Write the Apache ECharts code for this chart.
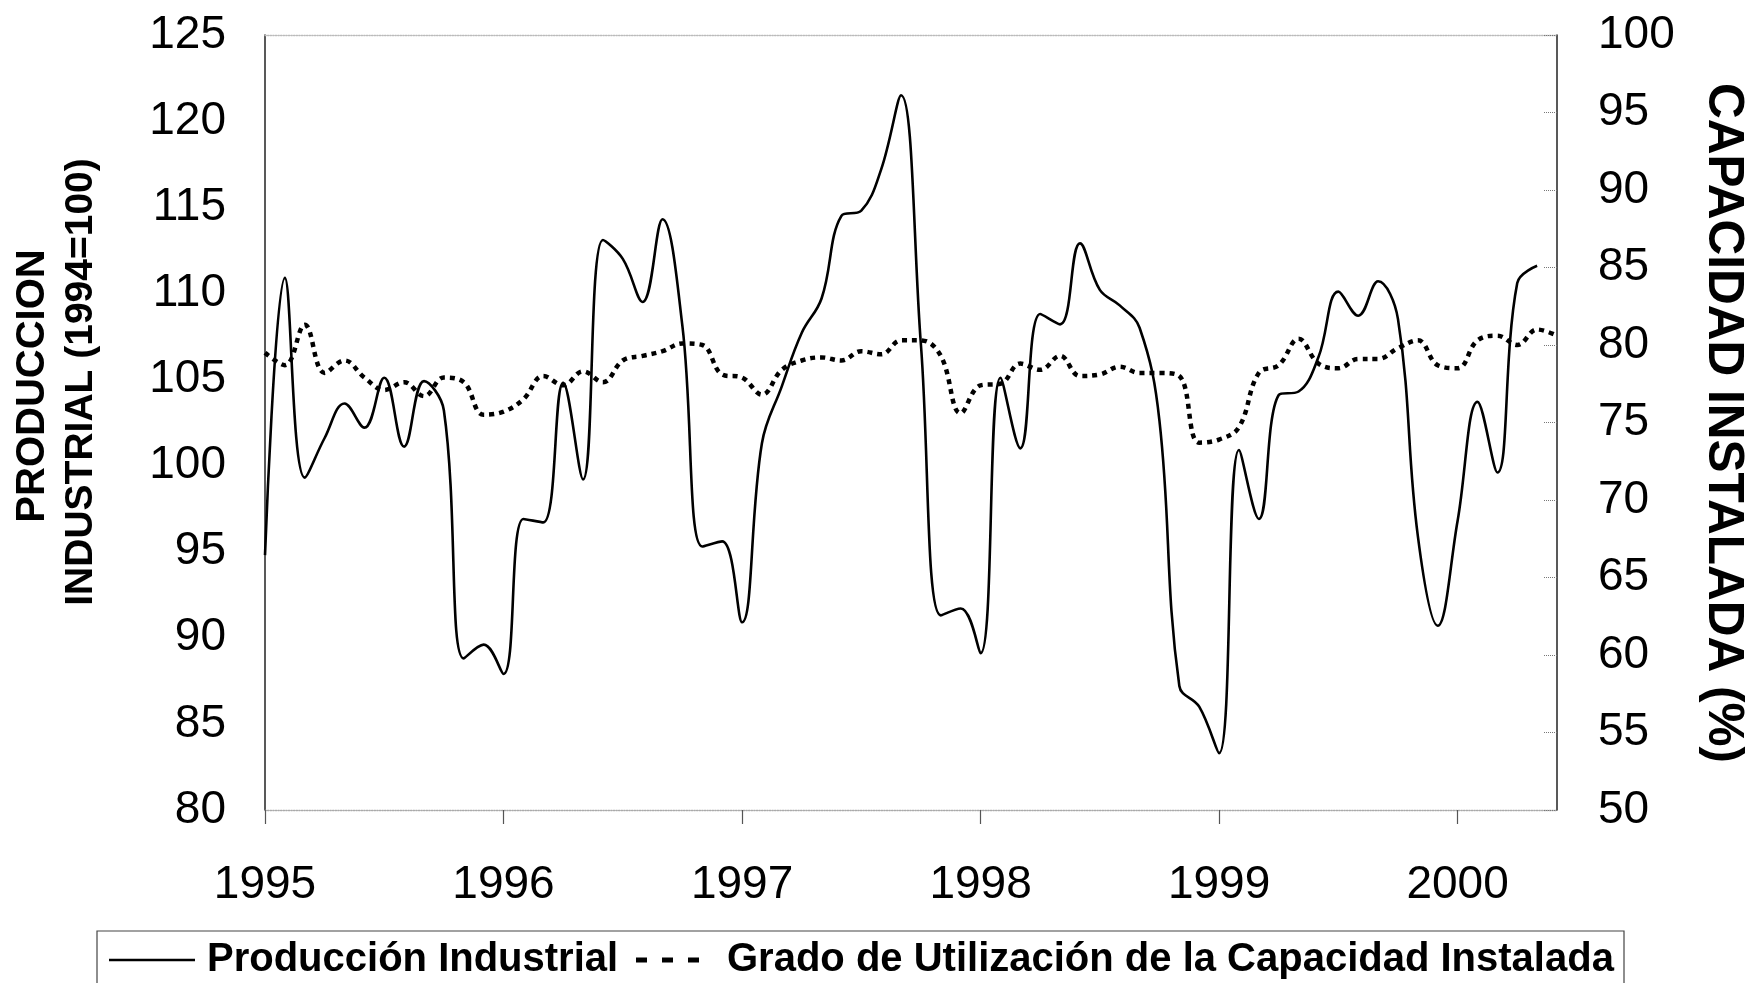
<!DOCTYPE html>
<html>
<head>
<meta charset="utf-8">
<title>Producción Industrial y Capacidad Instalada</title>
<script src="https://cdn.jsdelivr.net/npm/echarts@6/dist/echarts.min.js"></script>
<style>
  html, body { margin: 0; padding: 0; background: #fff; }
  #chart { width: 1750px; height: 983px; }
</style>
</head>
<body>
<div id="chart"></div>
<script>
// meses de ene 1995 a jun 2000 (66 meses)
const anios = ['1995', '1996', '1997', '1998', '1999', '2000'];
const meses = [];
anios.forEach(a => {
  for (let m = 1; m <= 12; m++) meses.push(a + '-' + String(m).padStart(2, '0'));
});
meses.length = 66;

const nombreProd = 'Producción Industrial';
const nombreCap = 'Grado de Utilización de la Capacidad Instalada';

// indice 1994=100 (eje izquierdo)
const prodIndustrial = [
  94.8, 110.9, 99.3, 101.6, 103.6, 102.2, 105.1, 101.1, 104.9, 103.2, 88.8, 89.6,
  87.9, 96.9, 96.7, 104.8, 99.2, 113.1, 112.0, 109.5, 114.3, 108.1, 95.3, 95.6,
  90.9, 101.3, 104.6, 107.7, 109.7, 114.5, 114.8, 117.2, 121.5, 107.0, 91.3, 91.7,
  89.1, 105.1, 101.0, 108.8, 108.2, 112.9, 110.2, 109.3, 108.0, 102.6, 87.2, 86.0,
  83.3, 100.9, 96.9, 104.1, 104.3, 106.3, 110.1, 108.7, 110.7, 108.5, 95.9, 90.7,
  96.8, 103.7, 99.6, 110.6, 111.6, null
];

// capacidad instalada % (eje derecho)
const capacidad = [
  79.5, 78.7, 81.3, 78.2, 79.0, 77.9, 77.1, 77.6, 76.7, 77.9, 77.6, 75.5,
  75.7, 76.5, 78.0, 77.4, 78.3, 77.6, 79.0, 79.3, 79.6, 80.1, 80.0, 78.1,
  77.9, 76.8, 78.4, 79.0, 79.2, 79.0, 79.6, 79.4, 80.3, 80.3, 79.3, 75.6,
  77.4, 77.5, 78.8, 78.4, 79.3, 78.0, 78.1, 78.6, 78.2, 78.2, 78.0, 73.7,
  73.9, 74.7, 78.2, 78.7, 80.4, 78.8, 78.5, 79.1, 79.1, 79.8, 80.3, 78.7,
  78.5, 80.3, 80.6, 80.0, 81.0, 80.6
];

const FONT = '"Liberation Sans", Arial, sans-serif';
const esEnero = (i) => i % 12 === 0;

const chart = echarts.init(document.getElementById('chart'));
const option = {
  backgroundColor: '#fff',
  animation: false,
  grid: { left: 265, right: 193, top: 35, bottom: 173, containLabel: false, outerBoundsMode: 'none' },
  xAxis: [{
    type: 'category',
    data: meses,
    boundaryGap: false,
    axisLine: { lineStyle: { color: '#aaa', width: 1.3, type: 'dotted' } },
    axisTick: { interval: esEnero, length: 14, lineStyle: { color: '#555', width: 1.2 } },
    axisLabel: {
      interval: esEnero,
      formatter: v => v.slice(0, 4),
      margin: 52,
      fontSize: 46,
      color: '#000',
      fontFamily: FONT
    },
    splitLine: { show: false }
  }, {
    type: 'category',
    data: meses,
    boundaryGap: false,
    position: 'top',
    axisLine: { lineStyle: { color: '#bbb', width: 1.3, type: 'dotted' } },
    axisTick: { show: false },
    axisLabel: { show: false },
    splitLine: { show: false }
  }],
  yAxis: [{
    type: 'value',
    min: 80, max: 125, interval: 5,
    position: 'left',
    axisLine: { show: true, lineStyle: { color: '#222', width: 1.5 } },
    axisTick: { show: false },
    axisLabel: { margin: 39, fontSize: 46, color: '#000', fontFamily: FONT },
    splitLine: { show: false }
  }, {
    type: 'value',
    min: 50, max: 100, interval: 5,
    position: 'right',
    axisLine: { show: true, lineStyle: { color: '#222', width: 1.5 } },
    axisTick: { show: true, inside: true, length: 13, lineStyle: { color: '#777', type: 'dotted' } },
    axisLabel: { margin: 41, fontSize: 46, color: '#000', fontFamily: FONT },
    splitLine: { show: false }
  }],
  legend: [{
    data: [{ name: nombreProd, icon: 'rect' }],
    left: 109, top: 940, padding: 0,
    itemWidth: 86, itemHeight: 2.5,
    selectedMode: false,
    textStyle: { fontSize: 40, fontWeight: 'bold', color: '#000', fontFamily: FONT, lineHeight: 40, padding: [0, 0, 0, 7] }
  }, {
    data: [{ name: nombreCap, icon: 'path://M0,0h11v5h-11z M26,0h11v5h-11z M52,0h11v5h-11z' }],
    left: 636, top: 940, padding: 0,
    itemWidth: 63, itemHeight: 5,
    selectedMode: false,
    textStyle: { fontSize: 40, fontWeight: 'bold', color: '#000', fontFamily: FONT, lineHeight: 40, padding: [0, 0, 0, 23] }
  }],
  graphic: [
    {
      type: 'text', x: 33, y: 386, rotation: Math.PI / 2, silent: true,
      style: { text: 'PRODUCCION', font: 'bold 40px "Liberation Sans", Arial', fill: '#000', align: 'center', verticalAlign: 'middle' }
    },
    {
      type: 'text', x: 81, y: 382, rotation: Math.PI / 2, silent: true,
      style: { text: 'INDUSTRIAL (1994=100)', font: 'bold 39px "Liberation Sans", Arial', fill: '#000', align: 'center', verticalAlign: 'middle' }
    },
    {
      type: 'text', x: 1723, y: 423, rotation: -Math.PI / 2, silent: true,
      style: { text: 'CAPACIDAD INSTALADA (%)', font: 'bold 49.5px "Liberation Sans", Arial', fill: '#000', align: 'center', verticalAlign: 'middle' }
    },
    {
      type: 'rect', silent: true, z: -1,
      shape: { x: 97, y: 931, width: 1527, height: 80 },
      style: { fill: 'none', stroke: '#444', lineWidth: 1.2 }
    }
  ],
  series: [{
    name: nombreProd,
    type: 'line',
    data: prodIndustrial,
    xAxisIndex: 0, yAxisIndex: 0,
    smooth: 0.4,
    symbol: 'none',
    lineStyle: { color: '#000', width: 2.6 },
    itemStyle: { color: '#000' },
    z: 3
  }, {
    name: nombreCap,
    type: 'line',
    data: capacidad,
    xAxisIndex: 0, yAxisIndex: 1,
    smooth: 0.4,
    symbol: 'none',
    lineStyle: { color: '#000', width: 4.5, type: [5, 5], cap: 'butt' },
    itemStyle: { color: '#000' },
    z: 2
  }]
};
chart.setOption(option);
</script>
</body>
</html>
